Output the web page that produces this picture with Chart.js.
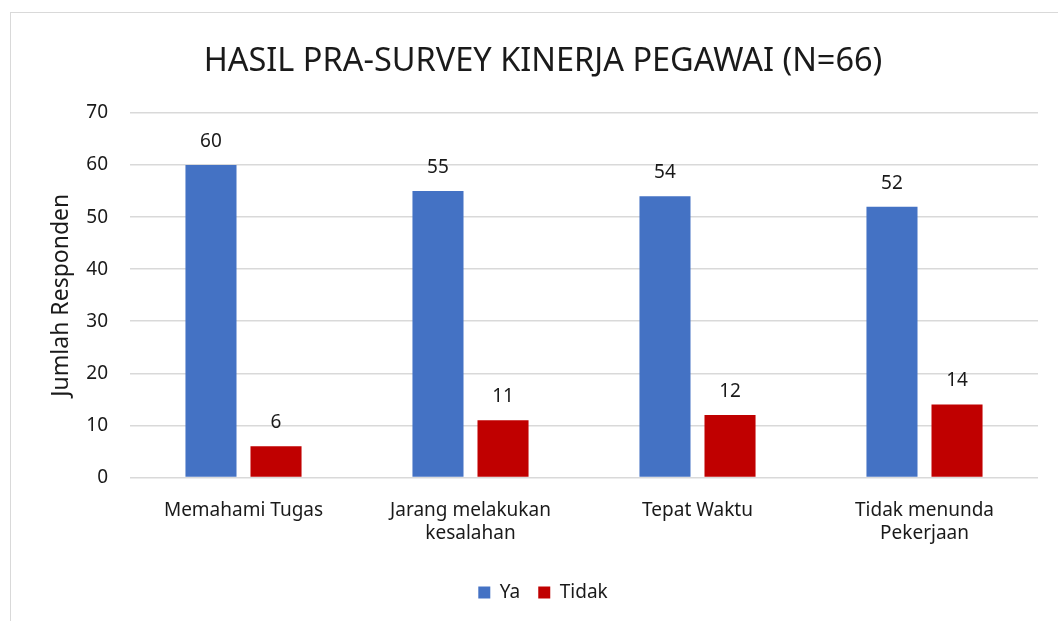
<!DOCTYPE html>
<html>
<head>
<meta charset="utf-8">
<script src="https://cdn.jsdelivr.net/npm/chart.js@4"></script>
<style>
  html, body { margin: 0; padding: 0; background: #fff; }
  #wrap { position: relative; width: 1058px; height: 621px; overflow: hidden; }
  #frame { position: absolute; left: 10px; top: 12px; width: 1100px; height: 700px; border: 1px solid #d9d9d9; }
  canvas { position: absolute; left: 0; top: 0; }
</style>
</head>
<body>
<div id="wrap">
  <div id="frame"></div>
  <canvas id="chartKinerja" width="1058" height="621"></canvas>
</div>
<script>
const categories = [
  'Memahami Tugas',
  ['Jarang melakukan', 'kesalahan'],
  'Tepat Waktu',
  ['Tidak menunda', 'Pekerjaan']
];
const yaValues = [60, 55, 54, 52];
const tidakValues = [6, 11, 12, 14];
const yTicks = [0, 10, 20, 30, 40, 50, 60, 70];

const FONT = "'Noto Sans', sans-serif";
const TEXT = '#1a1a1a';

// simple value labels above each bar
const barLabels = {
  id: 'barLabels',
  afterDatasetsDraw(chart) {
    const ctx = chart.ctx;
    ctx.save();
    ctx.font = "19px " + FONT;
    ctx.fillStyle = TEXT;
    ctx.textAlign = 'center';
    ctx.textBaseline = 'bottom';
    chart.data.datasets.forEach((ds, i) => {
      chart.getDatasetMeta(i).data.forEach((bar, j) => {
        ctx.fillText(ds.data[j], bar.x, bar.y - 14);
      });
    });
    ctx.restore();
  }
};

new Chart(document.getElementById('chartKinerja').getContext('2d'), {
  type: 'bar',
  data: {
    labels: categories,
    datasets: [{
      label: 'Ya',
      data: yaValues,
      backgroundColor: '#4472c4'
    }, {
      label: 'Tidak',
      data: tidakValues,
      backgroundColor: '#c00000'
    }]
  },
  options: {
    responsive: false,
    animation: false,
    layout: { padding: { left: 48, right: 20, top: 42, bottom: 9 } },
    categoryPercentage: 0.573,
    barPercentage: 0.785,
    plugins: {
      title: {
        display: true,
        text: 'HASIL PRA-SURVEY KINERJA PEGAWAI (N=66)',
        color: TEXT,
        font: { family: FONT, size: 32.5, weight: 'normal' },
        padding: { top: 0, bottom: 32 }
      },
      legend: {
        position: 'bottom',
        labels: {
          color: TEXT,
          font: { family: FONT, size: 19 },
          boxWidth: 12,
          boxHeight: 12,
          padding: 18
        }
      },
      tooltip: { enabled: false }
    },
    scales: {
      x: {
        grid: { display: false },
        border: { display: false },
        ticks: { color: TEXT, font: { family: FONT, size: 19 }, padding: 14, maxRotation: 0 },
        afterFit(axis) { axis.height += 6; }
      },
      y: {
        min: 0,
        max: 70,
        afterBuildTicks(axis) { axis.ticks = yTicks.map(v => ({ value: v })); },
        afterFit(axis) { axis.width = 82; },
        grid: { color: '#d9d9d9', lineWidth: 1.5, drawTicks: false },
        border: { display: false },
        ticks: { color: TEXT, font: { family: FONT, size: 19 }, padding: 22 },
        title: {
          display: true,
          text: 'Jumlah Responden',
          color: TEXT,
          font: { family: FONT, size: 23 },
          padding: { top: 0, bottom: 0 }
        }
      }
    }
  },
  plugins: [barLabels]
});
</script>
</body>
</html>
